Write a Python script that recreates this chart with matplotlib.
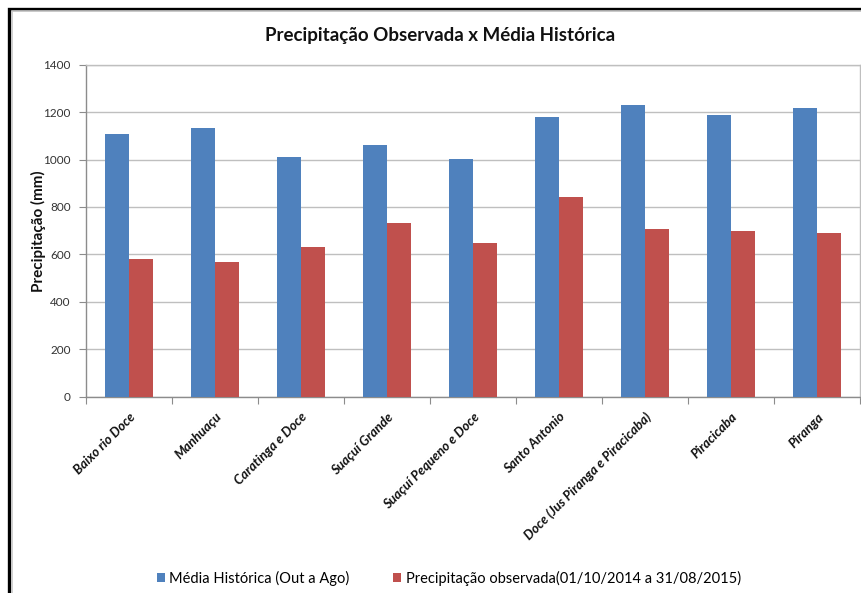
import matplotlib
matplotlib.use("Agg")
import matplotlib.pyplot as plt
import numpy as np
from matplotlib.patches import Rectangle, Patch

categories = [
    "Baixo rio Doce",
    "Manhuaçu",
    "Caratinga e Doce",
    "Suaçuí Grande",
    "Suaçuí Pequeno e Doce",
    "Santo Antonio",
    "Doce (Jus Piranga e Piracicaba)",
    "Piracicaba",
    "Piranga",
]
media_historica = [1108, 1133, 1012, 1061, 1004, 1178, 1231, 1188, 1217]
precip_observada = [579, 568, 631, 731, 649, 842, 706, 699, 690]
y_ticks = [0, 200, 400, 600, 800, 1000, 1200, 1400]

series_names = ["Média Histórica (Out a Ago)",
                "Precipitação observada(01/10/2014 a 31/08/2015)"]
blue = "#4F81BD"
red = "#C0504D"
grid_gray = "#BFBFBF"

plt.rcParams["font.family"] = ["Lato", "DejaVu Sans"]

W, H = 861, 593
fig = plt.figure(figsize=(W / 100, H / 100), dpi=100)
fig.patch.set_facecolor("white")

# outer frame of the chart
fig.add_artist(Rectangle((8.5 / W, -0.1), 2.0, 1 - 8.5 / H + 0.1,
                         transform=fig.transFigure, fill=False,
                         edgecolor="black", linewidth=2.4))
fig.add_artist(Rectangle((11.5 / W, -0.1), 2.0, 1 - 11.5 / H + 0.1,
                         transform=fig.transFigure, fill=False,
                         edgecolor="#C8C8C8", linewidth=1.2))

left, right = 86 / W, 860 / W
bottom, top = 1 - 396.7 / H, 1 - 64.7 / H
ax = fig.add_axes([left, bottom, right - left, top - bottom])

x = np.arange(len(categories))
bw = 24 / 86
ax.bar(x - bw / 2, media_historica, width=bw, color=blue, label=series_names[0], zorder=3)
ax.bar(x + bw / 2, precip_observada, width=bw, color=red, label=series_names[1], zorder=3)

ax.set_xlim(-0.5, len(categories) - 0.5)
ax.set_ylim(0, 1400)
ax.set_yticks(y_ticks)
ax.set_yticklabels([str(v) for v in y_ticks], fontsize=8.5, color="#333333")
ax.yaxis.grid(True, color=grid_gray, linewidth=1.0, zorder=0)
ax.set_axisbelow(True)

for s in ["top", "right", "left", "bottom"]:
    ax.spines[s].set_color(grid_gray)
    ax.spines[s].set_linewidth(1.0)
ax.spines["left"].set_color("#8C8C8C")
ax.spines["bottom"].set_color("#8C8C8C")

ax.tick_params(axis="y", length=5, color="#8C8C8C", pad=6)
# category boundary ticks on the x-axis
ax.set_xticks(np.arange(-0.5, len(categories) + 0.5, 1.0), minor=False)
ax.set_xticklabels([])
ax.tick_params(axis="x", which="major", length=5, color="#8C8C8C")
ax.set_xticks(x, minor=True)
ax.set_xticklabels(categories, minor=True, rotation=45, ha="right",
                   rotation_mode="anchor", fontsize=9.5,
                   fontweight="bold", fontstyle="italic", color="#111111")
ax.tick_params(axis="x", which="minor", length=0, pad=10)

ax.set_ylabel("Precipitação (mm)", fontsize=11, fontweight="bold",
              color="#111111", labelpad=-2)

fig.text(440 / W, 1 - 36 / H, "Precipitação Observada x Média Histórica",
         ha="center", va="center", fontsize=13.5, fontweight="bold",
         color="#111111")

handles = [Patch(facecolor=blue), Patch(facecolor=red)]
fig.legend(handles, series_names, loc="center", ncol=2,
           bbox_to_anchor=(449 / W, 1 - 578 / H), frameon=False,
           fontsize=10.5, handlelength=0.55, handleheight=0.55,
           handletextpad=0.3, columnspacing=3.0)

fig.savefig("out.png", dpi=100)
